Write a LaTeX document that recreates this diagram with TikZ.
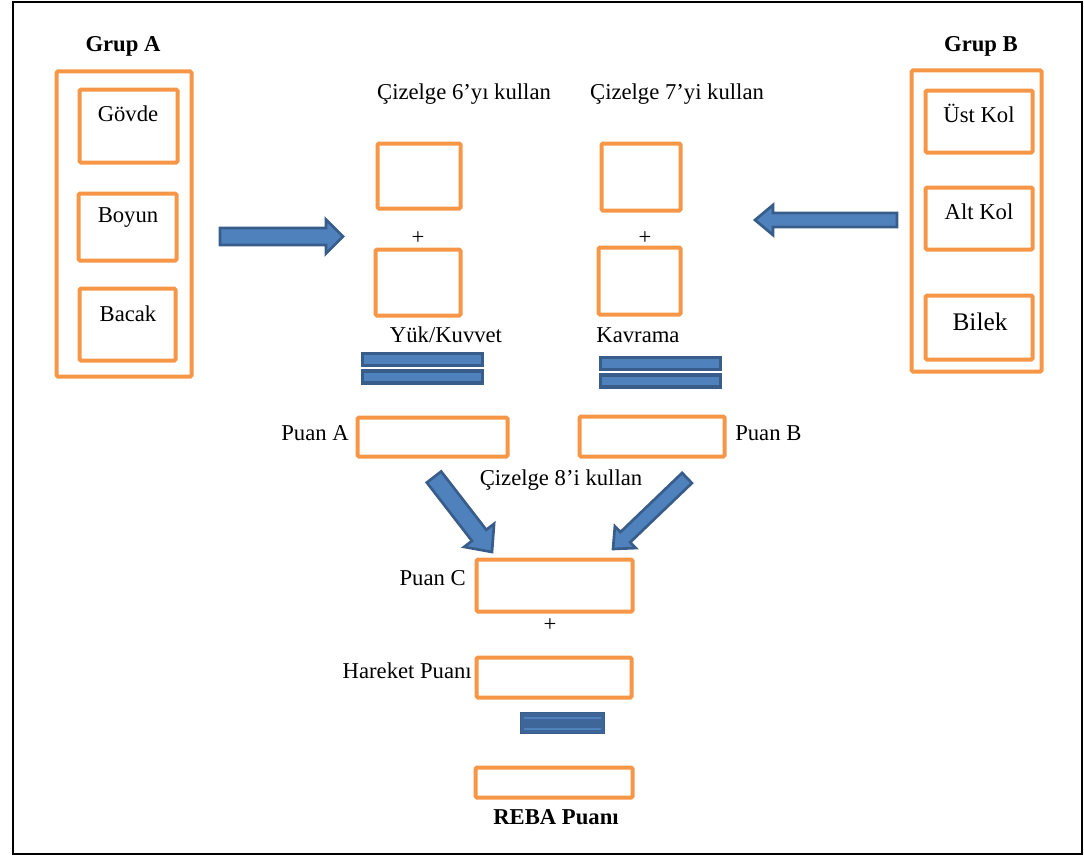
\documentclass[tikz,border=0pt]{standalone}
\usepackage{fontspec}
\setmainfont{Liberation Serif}
\usetikzlibrary{calc}
\definecolor{boxorange}{HTML}{F79646}
\definecolor{arrowfill}{HTML}{4F81BD}
\definecolor{arrowline}{HTML}{385D8A}
\definecolor{bardark}{HTML}{3F6699}
\tikzset{
  obox/.style={draw=boxorange, line width=3pt, rounded corners=1pt, inner sep=0pt},
  txt/.style={inner sep=0pt, font=\fontsize{17}{20}\selectfont},
  btxt/.style={inner sep=0pt, font=\fontsize{17}{20}\selectfont\bfseries},
  bigtxt/.style={inner sep=0pt, font=\fontsize{19}{22}\selectfont},
  blockarrow/.style={fill=arrowfill, draw=arrowline, line width=2pt, line join=miter},
  eqbar/.style={fill=arrowfill, draw=arrowline, line width=2.6pt, inner sep=0pt},
}
% rectangle node from its corner coordinates (in px units)
\newcommand\bx[6][obox]{%
  \node[#1, minimum width={(#5-#3-3)*0.75pt}, minimum height={(#6-#4-3)*0.75pt}]
    (#2) at ({(#3+#5)/2},{(#4+#6)/2}) {};}
% wide block arrow: tail, tip, half shaft, half head, head length
\newcommand\fatarrow[5]{%
  \coordinate (#2-base) at ($(#2)!#5!(#1)$);
  \draw[blockarrow] ($(#1)!#3!90:(#2)$) -- ($(#2-base)!#3!90:(#2)$)
    -- ($(#2-base)!#4!90:(#2)$) -- (#2) -- ($(#2-base)!#4!-90:(#2)$)
    -- ($(#2-base)!#3!-90:(#2)$) -- ($(#1)!#3!-90:(#2)$) -- cycle;}
\begin{document}
\begin{tikzpicture}[x=0.75pt, y=-0.75pt]
\useasboundingbox (0,0) rectangle (1084,856);
\draw[line width=0.8pt] (13,2) rectangle (1082,854);

% Group A
\node[btxt] (grupA) at (123,46) {Grup A};
\bx{groupA}{55}{70}{193}{378}
\bx{govdeBox}{78}{88}{179}{164}
\bx{boyunBox}{77}{192}{178}{262}
\bx{bacakBox}{78}{287}{177}{362}
\node[txt] (govde) at (128,114) {Gövde};
\node[txt] (boyun) at (128,218) {Boyun};
\node[txt] (bacak) at (128,314) {Bacak};

% Group B
\node[btxt] (grupB) at (981,46) {Grup B};
\bx{groupB}{910}{69}{1043}{373}
\bx{ustBox}{924}{89}{1034}{154}
\bx{altBox}{924}{186}{1034}{251}
\bx{bilekBox}{924}{294}{1034}{361}
\node[txt] (ust) at (979,113) {Üst Kol};
\node[txt] (alt) at (979,212) {Alt Kol};
\node[bigtxt] (bilek) at (980,322) {Bilek};

% Tables 6 and 7
\node[txt] (cz6) at (464,94) {Çizelge 6’yı kullan};
\node[txt] (cz7) at (677,94) {Çizelge 7’yi kullan};
\bx{a1}{376}{142}{462}{210}
\bx{a2}{374}{248}{462}{317}
\bx{b1}{600}{142}{682}{212}
\bx{b2}{597}{246}{682}{316}
\node[txt] (plusA) at (418,238) {+};
\node[txt] (plusB) at (645,238) {+};
\node[txt] (yuk) at (446,335) {Yük/Kuvvet};
\node[txt] (kavrama) at (638,335) {Kavrama};

% equals signs
\bx[eqbar]{eqA1}{361}{352}{484}{367}
\bx[eqbar]{eqA2}{361}{369.5}{484}{384.5}
\bx[eqbar]{eqB1}{599}{356}{722}{371}
\bx[eqbar]{eqB2}{599}{373.5}{722}{388.5}

% Scores A and B
\bx{puanAbox}{356}{416}{509}{458}
\bx{puanBbox}{578}{415}{726}{458}
\node[txt, anchor=east] (puanA) at (349,433) {Puan A};
\node[txt, anchor=west] (puanB) at (735,433) {Puan B};
\node[txt] (cz8) at (561,480) {Çizelge 8’i kullan};

% Score C, activity, REBA
\bx{puanCbox}{475}{558}{634}{613}
\node[txt, anchor=east] (puanC) at (466,578) {Puan C};
\node[txt] (plusC) at (550,625) {+};
\bx{hareketBox}{475}{656}{633}{699}
\node[txt, anchor=east] (hareket) at (472,671) {Hareket Puanı};
\node[fill=bardark, draw=arrowline, line width=1pt, inner sep=0pt,
      minimum width={84*0.75pt}, minimum height={21*0.75pt}] (eqC) at (562.5,723) {};
\draw[arrowfill, line width=1.5pt] ($(eqC.west)+(4,-5.5)$) -- ($(eqC.east)+(-4,-5.5)$);
\draw[arrowfill, line width=1.5pt] ($(eqC.west)+(4,5.5)$) -- ($(eqC.east)+(-4,5.5)$);
\bx{rebaBox}{474}{766}{634}{799}
\node[btxt] (reba) at (556,817) {REBA Puanı};

% block arrows
\coordinate (rA0) at (220,236.5);
\coordinate (rA1) at (343,236.5);
\fatarrow{rA0}{rA1}{6.4pt}{12.8pt}{12.8pt}
\coordinate (lB0) at (897,220);
\coordinate (lB1) at (755,220);
\fatarrow{lB0}{lB1}{5.3pt}{11.3pt}{13.5pt}
\coordinate (dA0) at (434,477);
\coordinate (dA1) at (492,552);
\fatarrow{dA0}{dA1}{6.8pt}{14.2pt}{15.8pt}
\coordinate (dB0) at (687,478);
\coordinate (dB1) at (613,549);
\fatarrow{dB0}{dB1}{5.3pt}{11.3pt}{12.8pt}
\end{tikzpicture}
\end{document}
